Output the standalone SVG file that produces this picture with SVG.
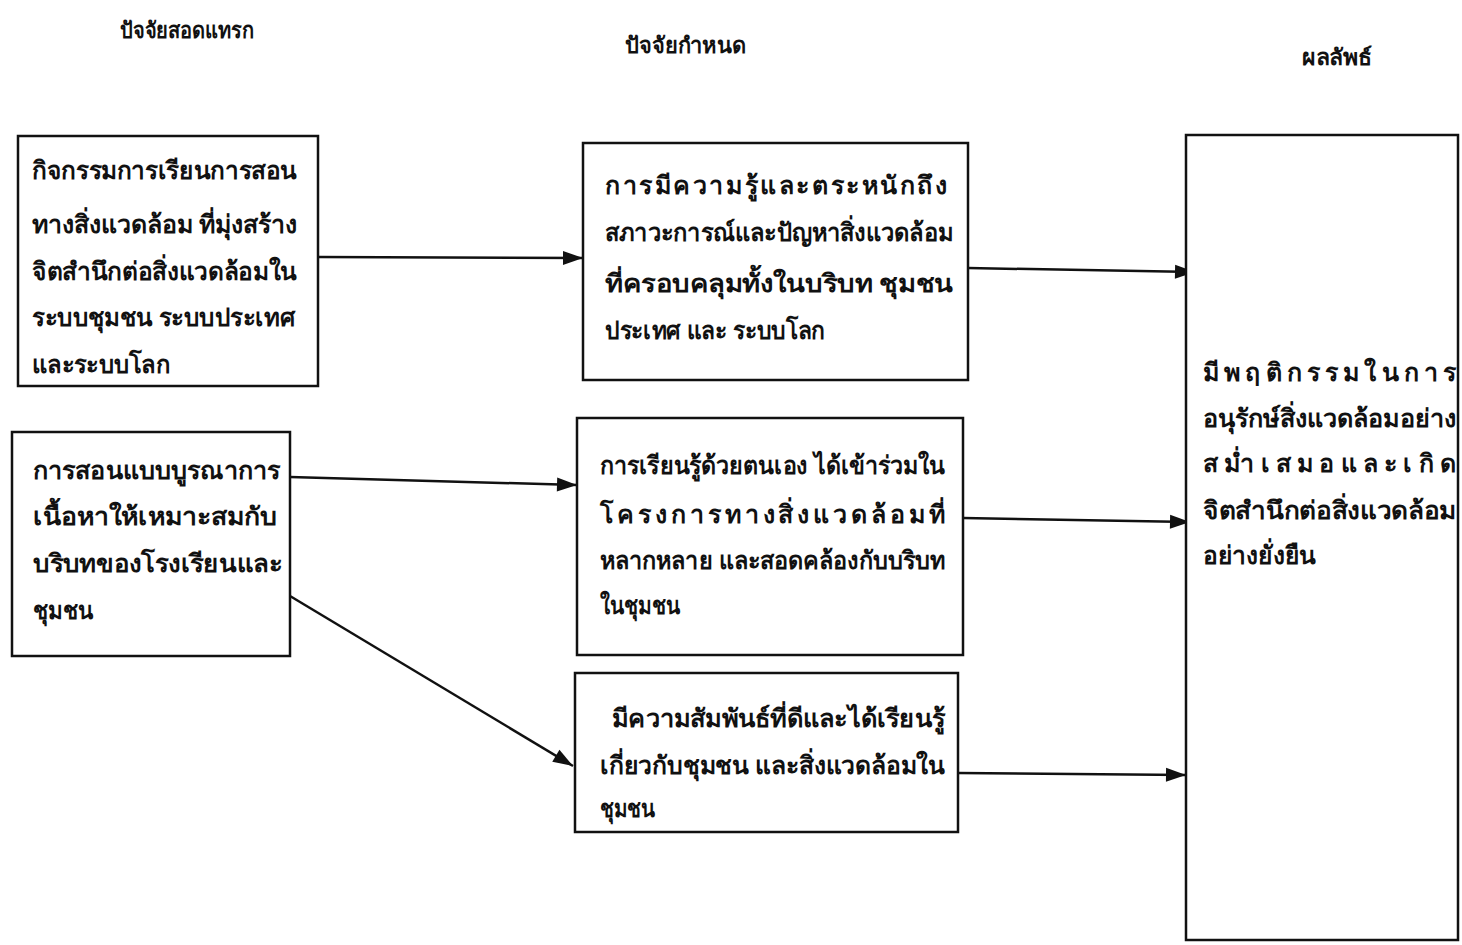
<svg xmlns="http://www.w3.org/2000/svg" width="1462" height="945" viewBox="0 0 1462 945">
<defs>
<marker id="ah" markerWidth="20" markerHeight="14" refX="20" refY="7" orient="auto" markerUnits="userSpaceOnUse" overflow="visible">
<path d="M0,0 L20,7 L0,14 z" fill="#111"/>
</marker>
<style>
.box{fill:#fff;stroke:#111;stroke-width:2.5}
.t{font-family:"Noto Sans","DejaVu Sans",sans-serif;font-size:25px;font-weight:700;fill:#111}
.h{font-family:"Noto Sans","DejaVu Sans",sans-serif;font-size:22px;font-weight:700;fill:#111}
.c{stroke:#111;stroke-width:2.5;fill:none;marker-end:url(#ah)}
</style>
</defs>
<rect width="1462" height="945" fill="#fff"/>
<g id="headers">
<text class="h" x="120" y="38" textLength="134" lengthAdjust="spacingAndGlyphs">ปัจจัยสอดแทรก</text>
<text class="h" x="625" y="53" textLength="121" lengthAdjust="spacingAndGlyphs">ปัจจัยกำหนด</text>
<text class="h" x="1302" y="65" textLength="70" lengthAdjust="spacingAndGlyphs">ผลลัพธ์</text>
</g>
<g id="connectors">
<line class="c" x1="318" y1="257" x2="583" y2="258"/>
<line class="c" x1="290" y1="477" x2="577" y2="485"/>
<line class="c" x1="290" y1="596" x2="573" y2="766"/>
<line class="c" x1="968" y1="268" x2="1195" y2="272"/>
<line class="c" x1="963" y1="518" x2="1190" y2="522"/>
<line class="c" x1="958" y1="773" x2="1186" y2="775"/>
</g>
<g id="nodeA">
<rect class="box" x="18" y="136" width="300" height="250"/>
<text class="t" x="32" y="179" textLength="265" lengthAdjust="spacingAndGlyphs">กิจกรรมการเรียนการสอน</text>
<text class="t" x="32" y="233" textLength="265" lengthAdjust="spacingAndGlyphs">ทางสิ่งแวดล้อม ที่มุ่งสร้าง</text>
<text class="t" x="32" y="280" textLength="265" lengthAdjust="spacingAndGlyphs">จิตสำนึกต่อสิ่งแวดล้อมใน</text>
<text class="t" x="32" y="326" textLength="263" lengthAdjust="spacingAndGlyphs">ระบบชุมชน ระบบประเทศ</text>
<text class="t" x="32" y="373" textLength="138" lengthAdjust="spacingAndGlyphs">และระบบโลก</text>
</g>
<g id="nodeC">
<rect class="box" x="12" y="432" width="278" height="224"/>
<text class="t" x="33" y="479" textLength="247" lengthAdjust="spacingAndGlyphs">การสอนแบบบูรณาการ</text>
<text class="t" x="33" y="525" textLength="244" lengthAdjust="spacingAndGlyphs">เนื้อหาให้เหมาะสมกับ</text>
<text class="t" x="33" y="572" textLength="249" lengthAdjust="spacingAndGlyphs">บริบทของโรงเรียนและ</text>
<text class="t" x="33" y="619" textLength="60" lengthAdjust="spacingAndGlyphs">ชุมชน</text>
</g>
<g id="nodeB">
<rect class="box" x="583" y="143" width="385" height="237"/>
<text class="t" x="605" y="194" textLength="342" lengthAdjust="spacing">การมีความรู้และตระหนักถึง</text>
<text class="t" x="605" y="241" textLength="348" lengthAdjust="spacingAndGlyphs">สภาวะการณ์และปัญหาสิ่งแวดล้อม</text>
<text class="t" x="605" y="292" textLength="348" lengthAdjust="spacingAndGlyphs">ที่ครอบคลุมทั้งในบริบท ชุมชน</text>
<text class="t" x="605" y="339" textLength="220" lengthAdjust="spacingAndGlyphs">ประเทศ และ ระบบโลก</text>
</g>
<g id="nodeD">
<rect class="box" x="577" y="418" width="386" height="237"/>
<text class="t" x="600" y="474" textLength="345" lengthAdjust="spacingAndGlyphs">การเรียนรู้ด้วยตนเอง ได้เข้าร่วมใน</text>
<text class="t" x="600" y="523" textLength="345" lengthAdjust="spacing">โครงการทางสิ่งแวดล้อมที่</text>
<text class="t" x="600" y="569" textLength="345" lengthAdjust="spacingAndGlyphs">หลากหลาย และสอดคล้องกับบริบท</text>
<text class="t" x="600" y="614" textLength="80" lengthAdjust="spacingAndGlyphs">ในชุมชน</text>
</g>
<g id="nodeE">
<rect class="box" x="575" y="673" width="383" height="159"/>
<text class="t" x="612" y="727" textLength="333" lengthAdjust="spacingAndGlyphs">มีความสัมพันธ์ที่ดีและได้เรียนรู้</text>
<text class="t" x="600" y="774" textLength="345" lengthAdjust="spacingAndGlyphs">เกี่ยวกับชุมชน และสิ่งแวดล้อมใน</text>
<text class="t" x="600" y="817" textLength="55" lengthAdjust="spacingAndGlyphs">ชุมชน</text>
</g>
<g id="nodeF">
<rect class="box" x="1186" y="135" width="272" height="805"/>
<text class="t" x="1203" y="381" textLength="253" lengthAdjust="spacing">มีพฤติกรรมในการ</text>
<text class="t" x="1203" y="427" textLength="253" lengthAdjust="spacingAndGlyphs">อนุรักษ์สิ่งแวดล้อมอย่าง</text>
<text class="t" x="1203" y="472" textLength="253" lengthAdjust="spacing">สม่ำเสมอและเกิด</text>
<text class="t" x="1203" y="519" textLength="253" lengthAdjust="spacingAndGlyphs">จิตสำนึกต่อสิ่งแวดล้อม</text>
<text class="t" x="1203" y="564" textLength="113" lengthAdjust="spacingAndGlyphs">อย่างยั่งยืน</text>
</g>
</svg>
